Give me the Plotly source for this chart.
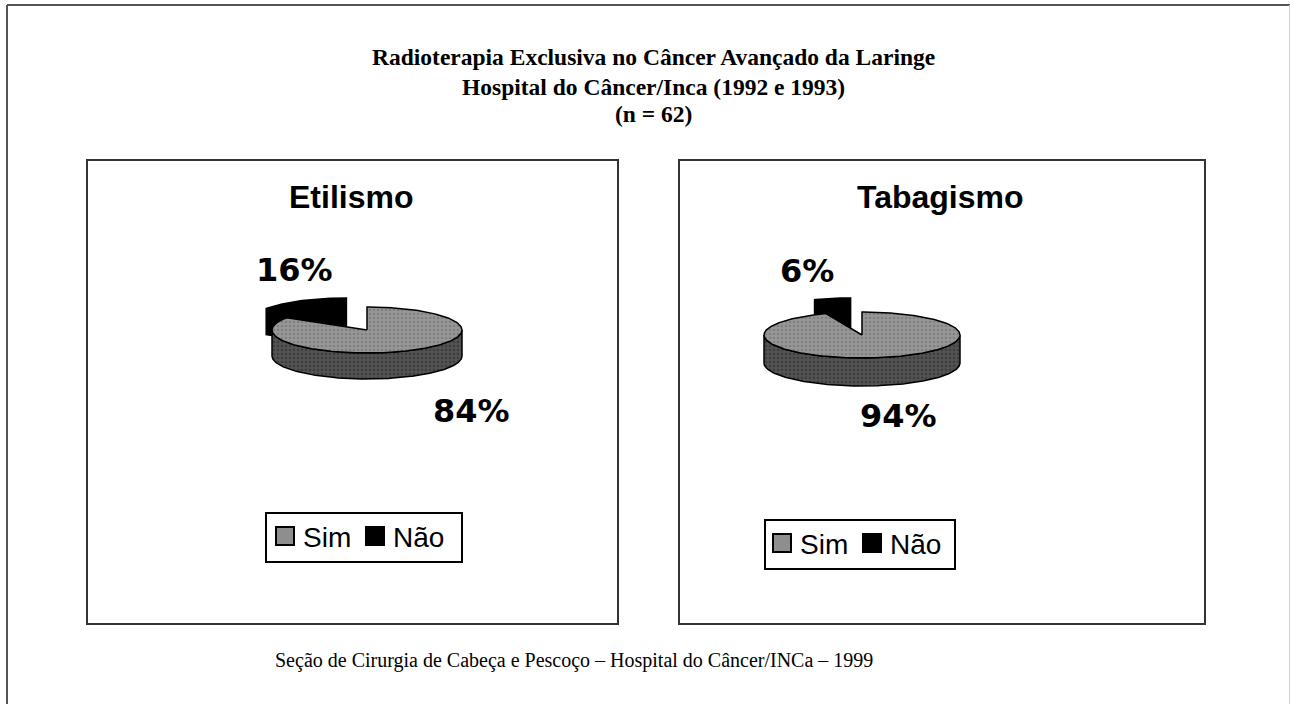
import numpy as np
import plotly.graph_objects as go

# ---------------- data ----------------
categories = ["Sim", "Não"]
etilismo_values = [84, 16]
tabagismo_values = [94, 6]
panel_titles = ["Etilismo", "Tabagismo"]
title_lines = [
    "Radioterapia Exclusiva no Câncer Avançado da Laringe",
    "Hospital do Câncer/Inca (1992 e 1993)",
    "(n = 62)",
]
footer_text = "Seção de Cirurgia de Cabeça e Pescoço – Hospital do Câncer/INCa – 1999"

# ---------------- style / layout ----------------
W, H = 1291, 704
TOP_PATTERN = dict(shape=".", bgcolor="#979797", fgcolor="#6a6a6a", size=4, solidity=0.35)
SIDE_PATTERN = dict(shape=".", bgcolor="#555555", fgcolor="#2a2a2a", size=4, solidity=0.4)
SLICE_COLORS = ["#8e8e8e", "#000000"]

panels = [
    dict(values=etilismo_values, title=panel_titles[0],
         box=(87, 160, 618, 624), title_xy=(351, 197),
         cx=367, cy=330, rx=95, ry=23, depth=26, explode=0.45,
         label_xy=[(471, 411), (294, 270)],
         legend=dict(box=(266, 513, 462, 562), sq=[(276, 527), (366, 527)], sq_size=18,
                     txt=[(301, 537), (391, 537)])),
    dict(values=tabagismo_values, title=panel_titles[1],
         box=(679, 160, 1205, 624), title_xy=(940, 197),
         cx=862, cy=335, rx=98, ry=23, depth=28, explode=0.62,
         label_xy=[(898, 416), (807, 271)],
         legend=dict(box=(765, 520, 955, 569), sq=[(773, 534), (863, 534)], sq_size=18,
                     txt=[(798, 544), (888, 544)])),
]

fig = go.Figure()


def pt(th, p, ox, oy, dz=0.0):
    return (p["cx"] + ox + p["rx"] * np.cos(th), p["cy"] + oy - p["ry"] * np.sin(th) + dz)


def add_poly(xs, ys, fillcolor=None, pattern=None):
    kw = dict(x=list(xs) + [xs[0]], y=list(ys) + [ys[0]], mode="lines", fill="toself",
              line=dict(color="black", width=1.5), hoverinfo="skip", showlegend=False)
    if pattern is not None:
        kw["fillpattern"] = pattern
        kw["fillcolor"] = pattern["bgcolor"]
    else:
        kw["fillcolor"] = fillcolor
    fig.add_trace(go.Scatter(**kw))


def draw_pie(p):
    vals = np.array(p["values"], dtype=float)
    fr = vals / vals.sum()
    start = np.pi / 2
    slices = []
    a = start
    for i, f in enumerate(fr):
        a1, a2 = a, a - 2 * np.pi * f          # clockwise
        slices.append((i, a1, a2))
        a = a2
    ex = int(np.argmin(vals))  # explode the smallest slice
    order = sorted(slices, key=lambda s: -np.sin((s[1] + s[2]) / 2))  # back first
    for i, a1, a2 in order:
        mid = (a1 + a2) / 2
        if i == ex:
            ox = p["explode"] * p["rx"] * np.cos(mid)
            oy = -p["explode"] * p["ry"] * np.sin(mid)
        else:
            ox = oy = 0.0
        d = p["depth"]
        dark = SLICE_COLORS[i] == "#000000"
        side_kw = dict(fillcolor="#000000") if dark else dict(pattern=SIDE_PATTERN)
        top_kw = dict(fillcolor="#000000") if dark else dict(pattern=TOP_PATTERN)
        c0 = (p["cx"] + ox, p["cy"] + oy)
        # radial faces
        for edge, normal in ((a1, a1 + np.pi / 2), (a2, a2 - np.pi / 2)):
            if np.sin(normal) < -1e-6:
                r0 = pt(edge, p, ox, oy)
                xs = [c0[0], r0[0], r0[0], c0[0]]
                ys = [c0[1], r0[1], r0[1] + d, c0[1] + d]
                add_poly(xs, ys, **side_kw)
        # outer front side
        th = np.linspace(a2, a1, 400)
        front = np.sin(th) < 0
        if front.any():
            tf = th[front]
            top = [pt(t, p, ox, oy) for t in tf]
            bot = [pt(t, p, ox, oy, d) for t in tf[::-1]]
            xs = [q[0] for q in top] + [q[0] for q in bot]
            ys = [q[1] for q in top] + [q[1] for q in bot]
            add_poly(xs, ys, **side_kw)
        # top face
        arc = [pt(t, p, ox, oy) for t in np.linspace(a1, a2, 300)]
        xs = [c0[0]] + [q[0] for q in arc]
        ys = [c0[1]] + [q[1] for q in arc]
        add_poly(xs, ys, **top_kw)


shapes = []
annotations = []

# outer frame
shapes.append(dict(type="line", x0=7, y0=5, x1=1290, y1=5, line=dict(color="#555", width=2)))
shapes.append(dict(type="line", x0=7, y0=5, x1=7, y1=H + 20, line=dict(color="#555", width=2)))
shapes.append(dict(type="line", x0=1289.5, y0=5, x1=1289.5, y1=H + 20, line=dict(color="#cfcfcf", width=1)))

# title lines
for txt, y in zip(title_lines, [57, 87, 114]):
    annotations.append(dict(x=653, y=y, text=txt, showarrow=False, xanchor="center", yanchor="middle",
                            font=dict(family="Liberation Serif", size=23.5, color="black", weight="bold")))
annotations.append(dict(x=574, y=660, text=footer_text, showarrow=False, xanchor="center", yanchor="middle",
                        font=dict(family="Liberation Serif", size=20, color="black")))

for p in panels:
    x0, y0, x1, y1 = p["box"]
    shapes.append(dict(type="rect", x0=x0, y0=y0, x1=x1, y1=y1, line=dict(color="#333", width=2)))
    annotations.append(dict(x=p["title_xy"][0], y=p["title_xy"][1], text=p["title"], showarrow=False,
                            font=dict(family="Liberation Sans", size=32, color="black", weight="bold")))
    draw_pie(p)
    for v, (lx, ly) in zip(p["values"], p["label_xy"]):
        annotations.append(dict(x=lx, y=ly, text=f"{v}%", showarrow=False,
                                font=dict(family="DejaVu Sans", size=32, color="black", weight="bold")))
    lg = p["legend"]
    bx0, by0, bx1, by1 = lg["box"]
    shapes.append(dict(type="rect", x0=bx0, y0=by0, x1=bx1, y1=by1, line=dict(color="black", width=2)))
    for k, cat in enumerate(categories):
        sx, sy = lg["sq"][k]
        s = lg["sq_size"]
        shapes.append(dict(type="rect", x0=sx, y0=sy, x1=sx + s, y1=sy + s,
                           fillcolor=SLICE_COLORS[k], line=dict(color="black", width=2)))
        tx, ty = lg["txt"][k]
        annotations.append(dict(x=tx, y=ty, text=cat, showarrow=False, xanchor="left", yanchor="middle",
                                font=dict(family="Liberation Sans", size=28, color="black")))

fig.update_layout(
    width=W, height=H, autosize=False,
    margin=dict(l=0, r=0, t=0, b=0),
    paper_bgcolor="white", plot_bgcolor="white",
    xaxis=dict(range=[0, W], visible=False, fixedrange=True),
    yaxis=dict(range=[H, 0], visible=False, fixedrange=True),
    shapes=shapes, annotations=annotations, showlegend=False,
)

fig.write_html("out.html", config={"displayModeBar": False},
               post_script="document.body.style.margin='0';document.body.style.overflow='hidden';")
